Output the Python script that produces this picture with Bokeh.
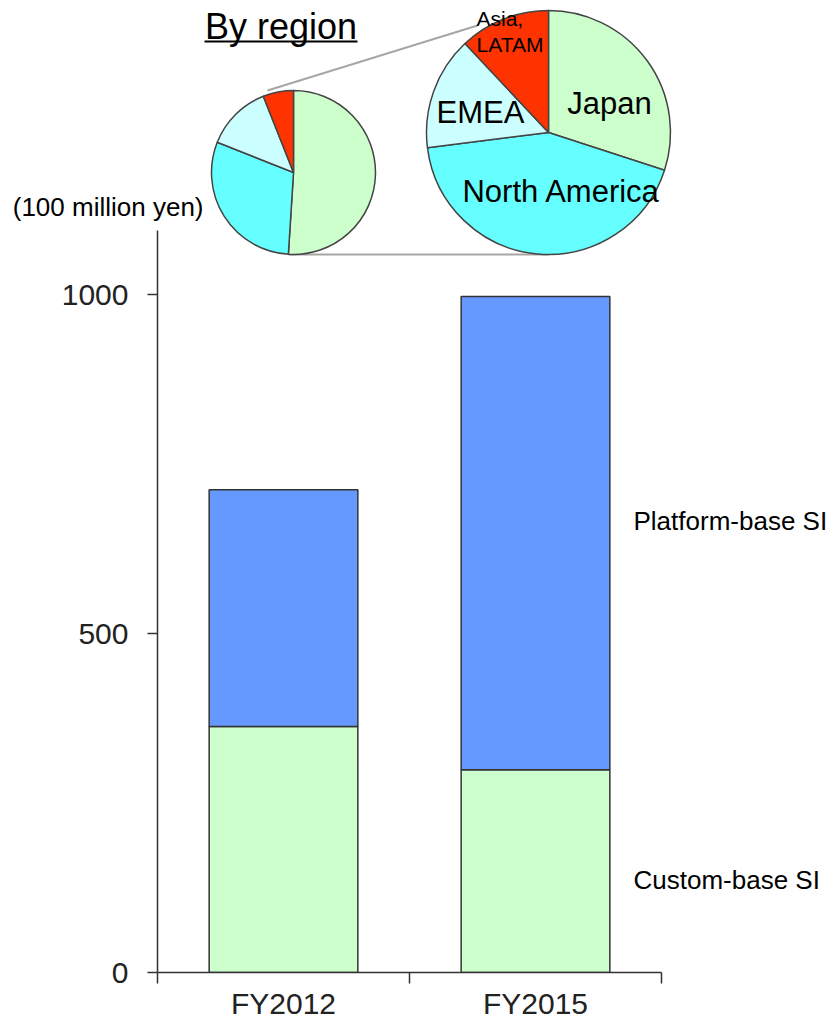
import math
from bokeh.plotting import figure
from bokeh.models import Range1d, LinearAxis, FixedTicker, ColumnDataSource
from bokeh.core.properties import value
from bokeh.embed import file_html
from bokeh.resources import INLINE

# ---------------- data ----------------
categories = ["FY2012", "FY2015"]
series = ["Custom-base SI", "Platform-base SI"]
custom_base = [363, 299]
platform_base = [349, 698]
y_ticks = [0, 500, 1000]
unit_label = "(100 million yen)"

regions = ["Japan", "North America", "EMEA", "Asia,\nLATAM"]
share_fy2012 = [51, 30, 13, 6]
share_fy2015 = [30, 43, 15, 12]
pie_title = "By region"

# ---------------- styles / layout ----------------
bar_colors = ["#ccffcc", "#6699ff"]
region_colors = ["#ccffcc", "#66ffff", "#ccffff", "#ff3300"]
FONT = "Liberation Sans"
W, H = 832, 1022
FL, FB = 157, 972          # frame left / bottom (px)
CAT_W = 252                # px per category
PX_PER_UNIT = (972 - 294) / 1000.0

p = figure(width=W, height=H,
           x_range=Range1d(0, (W - FL) / CAT_W),
           y_range=Range1d(0, FB / PX_PER_UNIT),
           x_axis_type=None, y_axis_type=None,
           toolbar_location=None, output_backend="svg",
           min_border_left=FL, min_border_right=0,
           min_border_top=0, min_border_bottom=H - FB)
p.outline_line_color = None
p.background_fill_color = "white"
p.border_fill_color = "white"

# pixel-like ranges for the pie inset (y = -pixel_y)
p.extra_x_ranges = {"px": Range1d(FL, W)}
p.extra_y_ranges = {"py": Range1d(-FB, 0)}

# ---------------- connector lines ----------------
p.line(x=[267, 477], y=[-90, -25], line_color="#a6a6a6", line_width=2,
       x_range_name="px", y_range_name="py")
p.line(x=[288, 548], y=[-254, -254], line_color="#a6a6a6", line_width=2,
       x_range_name="px", y_range_name="py")

# ---------------- pies ----------------
def draw_pie(shares, cx, cy, r):
    total = float(sum(shares))
    cum = 0.0
    starts, ends = [], []
    for s in shares:
        c0 = cum / total
        cum += s
        c1 = cum / total
        starts.append(math.pi / 2 - 2 * math.pi * c1)
        ends.append(math.pi / 2 - 2 * math.pi * c0)
    src = ColumnDataSource(dict(start=starts, end=ends, color=region_colors,
                                region=regions, share=shares))
    p.wedge(x=cx, y=-cy, radius=r, radius_units="screen",
            start_angle="start", end_angle="end",
            fill_color="color", line_color="#444444", line_width=1.5,
            source=src, x_range_name="px", y_range_name="py")

draw_pie(share_fy2012, 293, 172, 82)
draw_pie(share_fy2015, 548, 132, 122)

# region labels on the FY2015 pie
p.text(x=[609, 561, 480], y=[-103, -191, -112], text=regions[:3],
       text_font=value(FONT), text_font_size="31px", text_color="black",
       text_align="center", text_baseline="middle",
       x_range_name="px", y_range_name="py")
p.text(x=[476], y=[-31], text=[regions[3]],
       text_font=value(FONT), text_font_size="21px", text_color="black",
       text_align="left", text_baseline="middle", text_line_height=1.12,
       x_range_name="px", y_range_name="py")

# title "By region" with underline
p.text(x=[280.5], y=[-26], text=[pie_title],
       text_font=value(FONT), text_font_size="36px", text_color="black",
       text_align="center", text_baseline="middle",
       x_range_name="px", y_range_name="py")
p.line(x=[204, 357], y=[-41, -41], line_color="black", line_width=2,
       x_range_name="px", y_range_name="py")

# ---------------- bars ----------------
bar_src = ColumnDataSource(dict(x=[i + 0.5 for i in range(len(categories))],
                                cat=categories))
bar_src.data[series[0]] = custom_base
bar_src.data[series[1]] = platform_base
p.vbar_stack(series, x="x", width=0.59, source=bar_src,
             fill_color=bar_colors, line_color="#333333", line_width=1.5)

# series labels
p.text(x=[633, 633], y=[-879, -520], text=series,
       text_font=value(FONT), text_font_size="26px", text_color="black",
       text_align="left", text_baseline="middle",
       x_range_name="px", y_range_name="py")

# ---------------- axes ----------------
yax = LinearAxis(ticker=FixedTicker(ticks=y_ticks),
                 bounds=(0, 1094),
                 major_tick_out=10, major_tick_in=0,
                 minor_tick_out=0, minor_tick_in=0,
                 major_label_standoff=19,
                 axis_line_color="#333333", axis_line_width=1.5,
                 major_tick_line_color="#333333", major_tick_line_width=1.5,
                 major_label_text_font=FONT, major_label_text_font_size="30px",
                 major_label_text_color="#222222")
p.add_layout(yax, "left")

# unit caption shown as the single label of an outer, line-less axis
uax = LinearAxis(y_range_name="py", ticker=FixedTicker(ticks=[-206]),
                 major_label_overrides={-206: unit_label},
                 axis_line_color=None, major_tick_line_color=None,
                 minor_tick_line_color=None,
                 major_tick_out=0, major_tick_in=0,
                 minor_tick_out=0, minor_tick_in=0,
                 major_label_standoff=-145,
                 major_label_text_font=FONT, major_label_text_font_size="26px",
                 major_label_text_color="black")
p.add_layout(uax, "left")

xax = LinearAxis(ticker=FixedTicker(ticks=[i + 0.5 for i in range(len(categories))],
                                    minor_ticks=list(range(len(categories) + 1))),
                 bounds=(0, len(categories)),
                 major_tick_out=0, major_tick_in=0,
                 minor_tick_out=11, minor_tick_in=0,
                 major_label_standoff=3,
                 major_label_overrides={i + 0.5: c for i, c in enumerate(categories)},
                 axis_line_color="#333333", axis_line_width=1.5,
                 minor_tick_line_color="#333333", minor_tick_line_width=1.5,
                 major_label_text_font=FONT, major_label_text_font_size="30px",
                 major_label_text_line_height=1.0,
                 major_label_text_color="#222222")
p.add_layout(xax, "below")

open("out.html", "w").write(file_html(p, INLINE))
